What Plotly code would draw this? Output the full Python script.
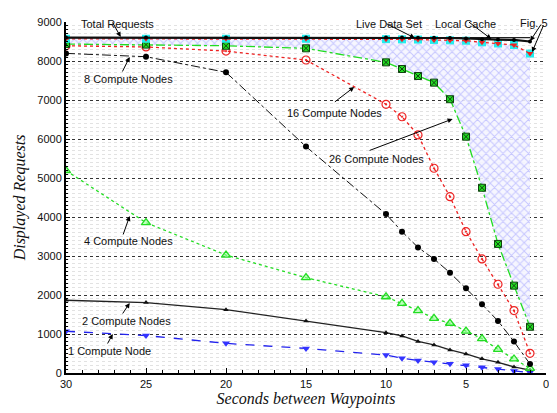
import plotly.graph_objects as go

# ---- data ----
x_vals = [30, 25, 20, 15, 10, 9, 8, 7, 6, 5, 4, 3, 2, 1]

one_node = [1070, 960, 760, 630, 460, 380, 320, 275, 240, 200, 145, 100, 50, 10]
two_nodes = [1865, 1805, 1625, 1335, 1035, 950, 810, 720, 590, 490, 365, 275, 155, 75]
four_nodes = [5190, 3855, 3025, 2445, 1955, 1785, 1600, 1400, 1275, 1075, 880, 605, 360, 120]
eight_nodes = [8195, 8110, 7710, 5805, 4075, 3625, 3220, 2925, 2570, 2170, 1760, 1335, 805, 230]
sixteen_nodes = [8390, 8360, 8255, 8025, 6890, 6570, 6105, 5250, 4520, 3625, 2925, 2275, 1600, 505]
twentysix_nodes = [8435, 8420, 8390, 8325, 7965, 7795, 7615, 7445, 7020, 6060, 4750, 3310, 2240, 1185]
live_data_set = [8570, 8570, 8570, 8570, 8560, 8555, 8550, 8540, 8530, 8520, 8480, 8450, 8410, 8190]
local_cache = [8600, 8600, 8600, 8600, 8600, 8600, 8598, 8595, 8590, 8580, 8560, 8550, 8540, 8500]
total_requests = [8600, 8600, 8600, 8600, 8600, 8600, 8600, 8600, 8600, 8600, 8600, 8600, 8600, 8600]

x_ticks = [30, 25, 20, 15, 10, 5, 0]
y_ticks = [0, 1000, 2000, 3000, 4000, 5000, 6000, 7000, 8000, 9000]

# labels inside the plot: (text, x, y) in data units
labels_in = [
    ("8 Compute Nodes", 26.09, 7538),
    ("16 Compute Nodes", 13.23, 6667),
    ("26 Compute Nodes", 10.62, 5487),
    ("4 Compute Nodes", 26.09, 3385),
    ("2 Compute Nodes", 26.21, 1333),
    ("1 Compute Node", 27.27, 564),
]
# labels above the plot: (text, x in data units, y in paper units)
labels_top = [
    ("Total Requests", 26.77, 1.017),
    ("Live Data Set", 9.81, 1.017),
    ("Local Cache", 5.03, 1.017),
]
fig_label = ("Fig. 5", 1.006, 1.017)   # paper coordinates, right-anchored

# arrows: (tail_x, tail_y, head_x, head_y)
arrows = [
    (27.14, 9026, 26.58, 8615),
    (26.52, 7692, 26.02, 8103),
    (13.29, 6923, 11.99, 7333),
    (11.12, 5692, 5.84, 6513),
    (26.46, 3513, 26.02, 4026),
    (26.52, 1487, 26.02, 1795),
    (27.45, 718, 27.08, 1000),
    (10.06, 8974, 8.20, 8590),
    (4.91, 9026, 3.42, 8564),
    (0.25, 8974, 0.99, 8513),
    (0.12, 8949, 0.87, 8231),
]

GREEN = "#22dd22"
LABEL_FONT = dict(family="Liberation Sans, Arial, sans-serif", size=11, color="#111111")
fig = go.Figure()

# hatched region between 26 nodes and live data set
fig.add_trace(go.Scatter(x=x_vals, y=twentysix_nodes, mode="lines",
                         line=dict(width=0), hoverinfo="skip", showlegend=False))
fig.add_trace(go.Scatter(x=x_vals, y=live_data_set, mode="lines", fill="tonexty",
                         fillcolor="rgba(0,0,0,0)",
                         fillpattern=dict(shape="x", fgcolor="rgba(110,110,255,0.7)",
                                          bgcolor="rgba(245,245,255,0.9)", size=6, solidity=0.3),
                         line=dict(width=0), hoverinfo="skip", showlegend=False))

fig.add_trace(go.Scatter(x=x_vals, y=one_node, mode="lines+markers", name="1 Compute Node",
                         line=dict(color="#2222ee", width=1.3, dash="dash"),
                         marker=dict(symbol="triangle-down", size=7, color="#3333ff")))
fig.add_trace(go.Scatter(x=x_vals, y=two_nodes, mode="lines+markers", name="2 Compute Nodes",
                         line=dict(color="#222222", width=1.3),
                         marker=dict(symbol="triangle-up", size=5, color="#111111")))
fig.add_trace(go.Scatter(x=x_vals, y=four_nodes, mode="lines+markers", name="4 Compute Nodes",
                         line=dict(color=GREEN, width=1.3, dash="dot"),
                         marker=dict(symbol="triangle-up", size=8, color="rgba(150,255,150,0.6)",
                                     line=dict(color=GREEN, width=1.3))))
fig.add_trace(go.Scatter(x=x_vals, y=eight_nodes, mode="lines+markers", name="8 Compute Nodes",
                         line=dict(color="#111111", width=1, dash="dashdot"),
                         marker=dict(symbol="circle", size=6, color="black")))
fig.add_trace(go.Scatter(x=x_vals, y=sixteen_nodes, mode="lines+markers", name="16 Compute Nodes",
                         line=dict(color="#ee2222", width=1.3, dash="dot"),
                         marker=dict(symbol="circle-open-dot", size=8, color="#ee2222",
                                     line=dict(width=1.2))))
fig.add_trace(go.Scatter(x=x_vals, y=twentysix_nodes, mode="lines+markers", name="26 Compute Nodes",
                         line=dict(color=GREEN, width=1.3, dash="dashdot"),
                         marker=dict(symbol="square-x", size=7, color=GREEN,
                                     line=dict(color="#114411", width=1))))
fig.add_trace(go.Scatter(x=x_vals, y=total_requests, mode="lines", name="Total Requests",
                         line=dict(color="#222222", width=1.2)))
fig.add_trace(go.Scatter(x=x_vals, y=live_data_set, mode="markers", name="Live Data Set (box)",
                         marker=dict(symbol="square", size=8, color="#22eeee"), showlegend=False))
fig.add_trace(go.Scatter(x=x_vals, y=live_data_set, mode="lines+markers", name="Live Data Set",
                         line=dict(color="#ee2222", width=1.3, dash="dot"),
                         marker=dict(symbol="triangle-down", size=6, color="#ee2222")))
fig.add_trace(go.Scatter(x=x_vals, y=local_cache, mode="lines+markers", name="Local Cache",
                         line=dict(color="#111111", width=2.2),
                         marker=dict(symbol="circle", size=4, color="black")))

for t, lx, ly in labels_in:
    fig.add_annotation(x=lx, y=ly, xref="x", yref="y", text=t, showarrow=False, font=LABEL_FONT)
for t, lx, ly in labels_top:
    fig.add_annotation(x=lx, y=ly, xref="x", yref="paper", text=t, showarrow=False, font=LABEL_FONT)
fig.add_annotation(x=fig_label[1], y=fig_label[2], xref="paper", yref="paper", text=fig_label[0],
                   showarrow=False, xanchor="right", borderpad=0, font=LABEL_FONT)
for tx, ty, hx, hy in arrows:
    fig.add_annotation(x=hx, y=hy, ax=tx, ay=ty, xref="x", yref="y", axref="x", ayref="y",
                       text="", showarrow=True, arrowhead=2, arrowsize=1, arrowwidth=1,
                       arrowcolor="black")

fig.update_layout(
    width=549, height=405,
    margin=dict(l=58, r=8, t=14, b=40),
    paper_bgcolor="white", plot_bgcolor="white",
    showlegend=False,
    font=dict(family="Liberation Sans, Arial, sans-serif", size=11, color="#111111"),
)
fig.update_xaxes(
    range=[30, 0], tickvals=x_ticks, ticks="inside", ticklen=5, tickcolor="black",
    showline=True, linecolor="black", linewidth=2, showgrid=False, zeroline=False,
    minor=dict(dtick=1, ticks="inside", ticklen=3, tickcolor="black", showgrid=False),
    tickfont=dict(size=11),
    title=dict(text="Seconds between Waypoints", standoff=2,
               font=dict(family="Liberation Serif, Times New Roman, serif", size=16, style="italic")),
)
fig.update_yaxes(
    range=[0, 9000], tickvals=y_ticks, ticks="inside", ticklen=4, tickcolor="black",
    showline=True, linecolor="black", linewidth=2, zeroline=False,
    showgrid=True, gridcolor="#333333", griddash="dot", gridwidth=1,
    minor=dict(dtick=100, ticks="inside", ticklen=2, tickcolor="black",
               showgrid=True, gridcolor="#e2e2e2", griddash="dot", gridwidth=1),
    tickfont=dict(size=11),
    title=dict(text="Displayed Requests", standoff=8,
               font=dict(family="Liberation Serif, Times New Roman, serif", size=16, style="italic")),
)

fig.write_html("out.html")
